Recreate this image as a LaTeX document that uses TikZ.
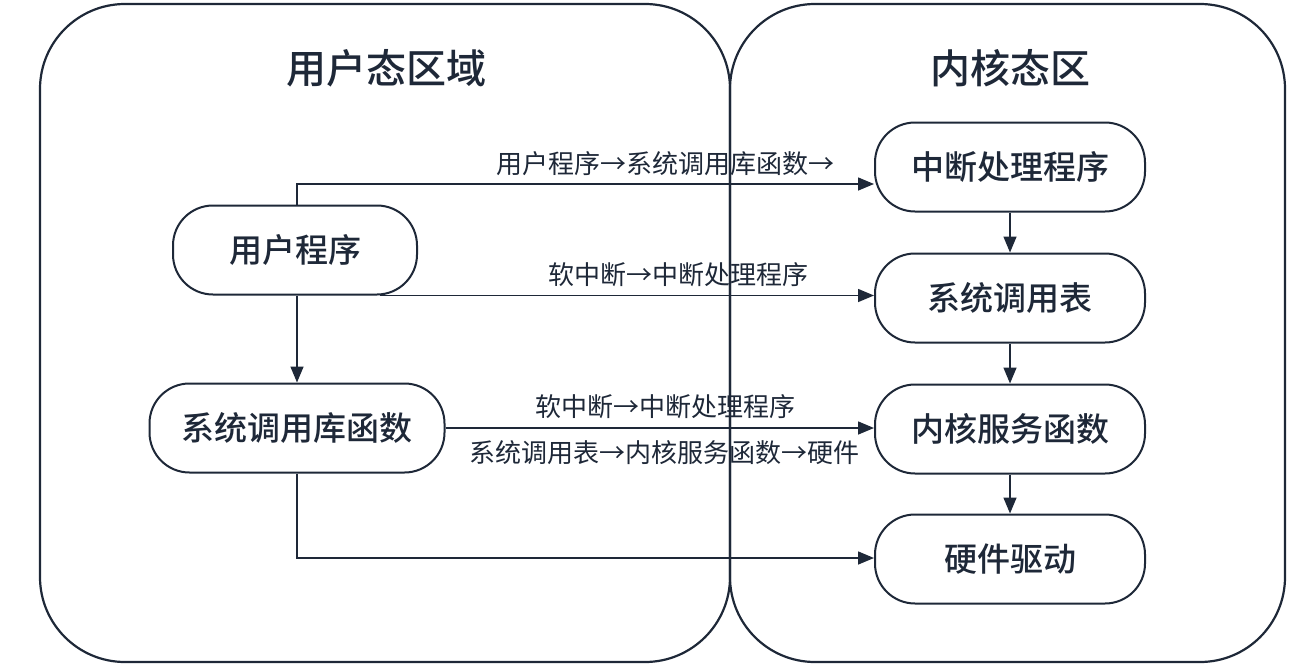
\documentclass[tikz,border=0pt]{standalone}
\usepackage{fontspec}
\setmainfont{Noto Sans CJK SC}
\newfontfamily\medfont{Noto Sans CJK SC Medium}
\usetikzlibrary{arrows.meta}
\definecolor{ink}{HTML}{1E2838}
\tikzset{
  region/.style={draw=ink, line width=2.2pt, rounded corners=85pt},
  title/.style={text=ink, font=\medfont\fontsize{40}{45}\selectfont},
  proc/.style={draw=ink, line width=2pt, rounded corners=40pt, fill=white, minimum height=89pt, text=ink, font=\medfont\fontsize{33}{38}\selectfont, inner sep=0pt},
  flow/.style={draw=ink, line width=1.5pt, -{Triangle[length=16pt,width=13pt]}},
  lab/.style={text=ink, font=\fontsize{26}{30}\selectfont, inner sep=0pt}
}
\begin{document}
\begin{tikzpicture}[x=1pt,y=-1pt]
\useasboundingbox (0,0) rectangle (1296,667);
\fill[white] (0,0) rectangle (1296,667);
% regions
\draw[region] (40,4) rectangle (730,662);
\draw[region] (730,4) rectangle (1285,662);
\node[title] (ut) at (386,68) {用户态区域};
\node[title] (kt) at (1010,68) {内核态区};
% user nodes
\node[proc, minimum width=244pt] (up) at (295,250) {用户程序};
\node[proc, minimum width=295pt] (lib) at (297,428) {系统调用库函数};
% kernel nodes
\node[proc, minimum width=270pt] (irq) at (1010,167) {中断处理程序};
\node[proc, minimum width=270pt] (sct) at (1010,298) {系统调用表};
\node[proc, minimum width=270pt] (ksf) at (1010,429) {内核服务函数};
\node[proc, minimum width=270pt] (hw) at (1010,559) {硬件驱动};
% coordinates
\coordinate (c1) at (297,184);
\coordinate (c2) at (297,558);
% arrows
\draw[flow] (up.north -| c1) |- (irq.west |- c1);
\draw[flow] ([xshift=85pt]up.south) -- (sct.west |- up.south);
\draw[flow] (up.south -| lib.north) -- (lib.north);
\draw[flow] (lib.east) -- (ksf.west |- lib.east);
\draw[flow] (lib.south -| c2) |- (hw.west |- c2);
\draw[flow] (irq) -- (sct);
\draw[flow] (sct) -- (ksf);
\draw[flow] (ksf) -- (hw);
% labels
\node[lab] (l1) at (665,164) {用户程序→系统调用库函数→};
\node[lab] (l2) at (678,275) {软中断→中断处理程序};
\node[lab] (l3) at (665,407) {软中断→中断处理程序};
\node[lab] (l4) at (664,453) {系统调用表→内核服务函数→硬件};
\end{tikzpicture}
\end{document}
